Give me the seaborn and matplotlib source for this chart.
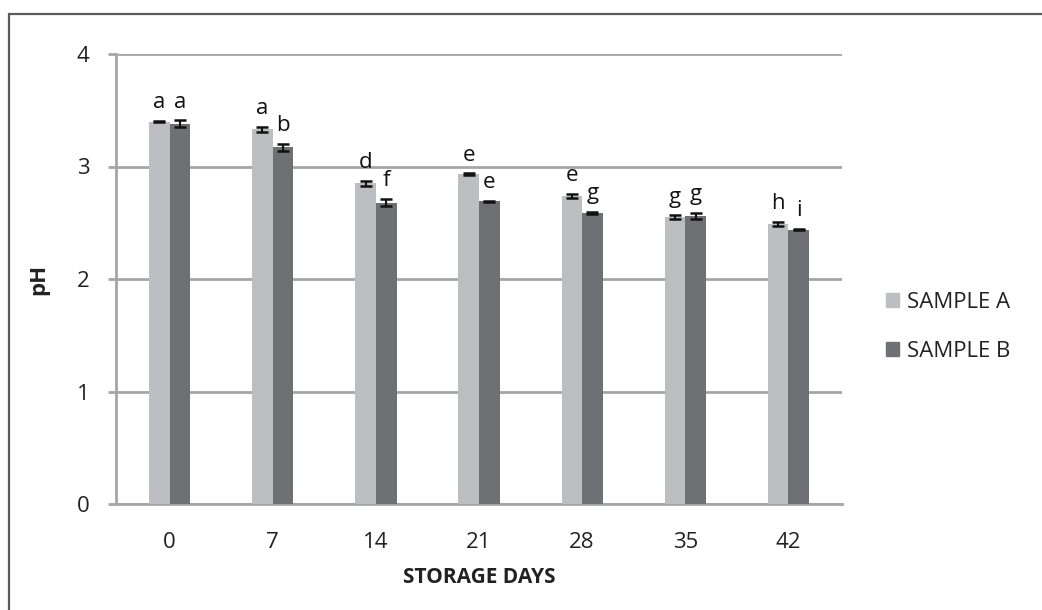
import numpy as np
import pandas as pd
import matplotlib.pyplot as plt
import matplotlib.patches as mpatches
import seaborn as sns

days = ['0', '7', '14', '21', '28', '35', '42']
ph_a = [3.40, 3.33, 2.85, 2.93, 2.74, 2.55, 2.49]
ph_b = [3.38, 3.17, 2.68, 2.69, 2.59, 2.56, 2.44]
err_a = [0.005, 0.02, 0.02, 0.008, 0.02, 0.015, 0.015]
err_b = [0.03, 0.03, 0.03, 0.005, 0.008, 0.03, 0.008]
letters_a = ['a', 'a', 'd', 'e', 'e', 'g', 'h']
letters_b = ['a', 'b', 'f', 'e', 'g', 'g', 'i']
samples = ['SAMPLE A', 'SAMPLE B']

data = pd.DataFrame({
    'day': days * 2,
    'pH': ph_a + ph_b,
    'sample': [samples[0]] * len(days) + [samples[1]] * len(days),
})

sns.set_style('white')
plt.rcParams['font.family'] = ['Open Sans', 'DejaVu Sans']

fig = plt.figure(figsize=(10.42, 6.10), dpi=100)
ax = fig.add_axes([116 / 1042, 1 - 504 / 610, (842 - 116) / 1042, (504 - 54) / 610])

colors = {'SAMPLE A': '#BDBEC1', 'SAMPLE B': '#6F7073'}
sns.barplot(data=data, x='day', y='pH', hue='sample', order=days,
            hue_order=samples, palette=colors, width=0.4, errorbar=None,
            saturation=1, linewidth=0, ax=ax, zorder=3)

# error bars and significance letters
for cont, vals, errs, lets in zip(ax.containers, [ph_a, ph_b], [err_a, err_b],
                                  [letters_a, letters_b]):
    xs = [p.get_x() + p.get_width() / 2 for p in cont.patches]
    ax.errorbar(xs, vals, yerr=errs, fmt='none', ecolor='#111111',
                elinewidth=1.5, capsize=4.5, capthick=1.8, zorder=4)
    for x, v, e, l in zip(xs, vals, errs, lets):
        ax.text(x, v + e + 0.07, l, ha='center', va='bottom', fontsize=16,
                color='#111111')

ax.set_ylim(0, 4)
ax.set_yticks([0, 1, 2, 3, 4])
ax.yaxis.grid(True, color='#A6A6A6', linewidth=2)
ax.set_axisbelow(True)
for s in ['top', 'right']:
    ax.spines[s].set_visible(False)
for s in ['left', 'bottom']:
    ax.spines[s].set_color('#A6A6A6')
    ax.spines[s].set_linewidth(2)
ax.tick_params(axis='y', left=True, length=6, width=2, color='#A6A6A6',
               pad=13, labelsize=16, labelcolor='#222222')
ax.tick_params(axis='x', bottom=False, pad=17, labelsize=16,
               labelcolor='#222222')
ax.set_xlabel('STORAGE DAYS', fontsize=15, fontweight='bold', labelpad=10,
              color='#222222')
ax.set_ylabel('pH', fontsize=16, fontweight='bold', labelpad=20,
              color='#222222')

handles = [mpatches.Patch(color=colors[s], label=s) for s in samples]
ax.get_legend().remove()
fig.legend(handles=handles, loc='center left', bbox_to_anchor=(0.831, 0.464),
           frameon=False, fontsize=16, handlelength=0.6, handleheight=0.6,
           handletextpad=0.35, labelspacing=1.25, labelcolor='#222222')

# outer frame
frame = mpatches.Rectangle((9 / 1042, -0.1), 1.2, 1 - 14 / 610 + 0.1,
                           transform=fig.transFigure, fill=False,
                           edgecolor='#5A5A5A', linewidth=1.6)
fig.patches.append(frame)

fig.savefig('out.png', dpi=100)
